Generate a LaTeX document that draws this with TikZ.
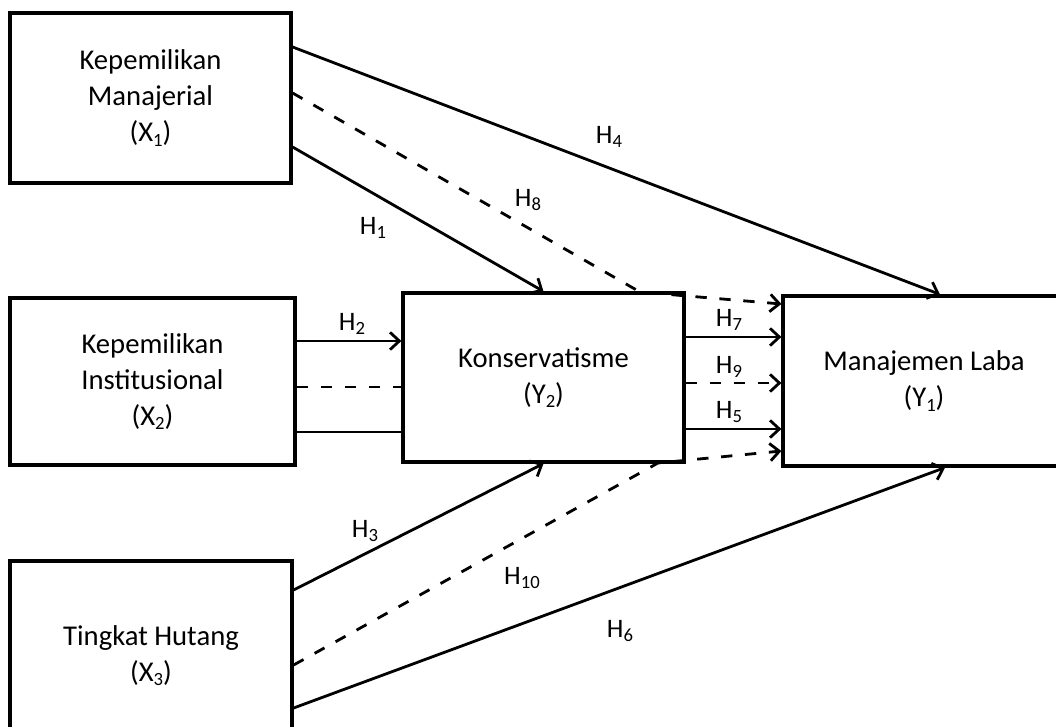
\documentclass[tikz,border=0pt]{standalone}
\usepackage{fontspec}
\setmainfont{Carlito}
\usetikzlibrary{arrows.meta,calc}
\newcommand\sbx[1]{\raisebox{-3.5pt}{\fontsize{14}{14}\selectfont #1}}
\begin{document}
\begin{tikzpicture}[x=0.75pt,y=-0.75pt,
  box/.style={draw,line width=2.4pt,rectangle,inner sep=0pt,align=center,
    font=\fontsize{21.5}{27}\selectfont},
  lnk/.style={line width=2.1pt},
  tip/.style={-{Straight Barb[length=7pt,width=13pt,line width=2.1pt]}},
  arr/.style={lnk,tip},
  dsh/.style={lnk,dash pattern=on 8.5pt off 9.5pt},
  lbl/.style={inner sep=1pt,font=\fontsize{20}{24}\selectfont}]
\useasboundingbox (0,0) rectangle (1056,727);
\clip (0,0) rectangle (1056,727);

% boxes
\node[box,minimum width=281*0.75pt,minimum height=170*0.75pt] (x1) at (150.5,98)
  {Kepemilikan\\Manajerial\\(X\sbx{1})};
\node[box,minimum width=285*0.75pt,minimum height=167*0.75pt] (x2) at (152.5,381.5)
  {Kepemilikan\\Institusional\\(X\sbx{2})};
\node[box,minimum width=282*0.75pt,minimum height=189*0.75pt] (x3) at (151,655.5)
  {Tingkat Hutang\\(X\sbx{3})};
\node[box,minimum width=281*0.75pt,minimum height=169*0.75pt] (y2) at (543.5,377.5)
  {Konservatisme\\(Y\sbx{2})};
\node[box,minimum width=282*0.75pt,minimum height=170*0.75pt] (y1) at (924,381)
  {Manajemen Laba\\(Y\sbx{1})};

% bend points of the dashed connectors
\coordinate (k1) at (640,292);
\coordinate (k2) at (658,463);

% from X1
\draw[arr] ($(x1.east)+(0,-51)$) -- ($(y1.north)+(16,0)$);
\draw[dsh,tip] ($(x1.east)+(0,-5)$) -- (k1) -- ($(y1.west)+(0,-77)$);
\draw[arr] ($(x1.east)+(0,49)$) -- (y2.north);

% from X2
\draw[arr] ($(x2.east)+(0,-40.5)$) coordinate (a2) -- (a2 -| y2.west);
\draw[dsh] ($(x2.east)+(0,5.5)$) coordinate (b2) -- (b2 -| y2.west);
\draw[lnk] ($(x2.east)+(0,50.5)$) coordinate (c2) -- (c2 -| y2.west);

% from Y2
\draw[arr] ($(y2.east)+(0,-40.5)$) coordinate (a5) -- (a5 -| y1.west);
\draw[dsh,tip] ($(y2.east)+(0,5.5)$) coordinate (b5) -- (b5 -| y1.west);
\draw[arr] ($(y2.east)+(0,51.5)$) coordinate (c5) -- (c5 -| y1.west);

% from X3
\draw[arr] ($(x3.east)+(0,-65.5)$) -- (y2.south);
\draw[dsh,tip] ($(x3.east)+(0,9.5)$) -- (k2) -- ($(y1.west)+(0,70)$);
\draw[arr] ($(x3.east)+(0,52.5)$) -- ($(y1.south)+(21,0)$);

% labels
\node[lbl] (h4) at (609,137) {H\sbx{4}};
\node[lbl] (h8) at (528,200) {H\sbx{8}};
\node[lbl] (h1) at (373,228) {H\sbx{1}};
\node[lbl] (h2) at (352,324) {H\sbx{2}};
\node[lbl] (h7) at (729,320) {H\sbx{7}};
\node[lbl] (h9) at (729,367) {H\sbx{9}};
\node[lbl] (h5) at (729,412) {H\sbx{5}};
\node[lbl] (h3) at (365,531) {H\sbx{3}};
\node[lbl] (h10) at (522,578) {H\sbx{10}};
\node[lbl] (h6) at (620,631) {H\sbx{6}};
\end{tikzpicture}
\end{document}
